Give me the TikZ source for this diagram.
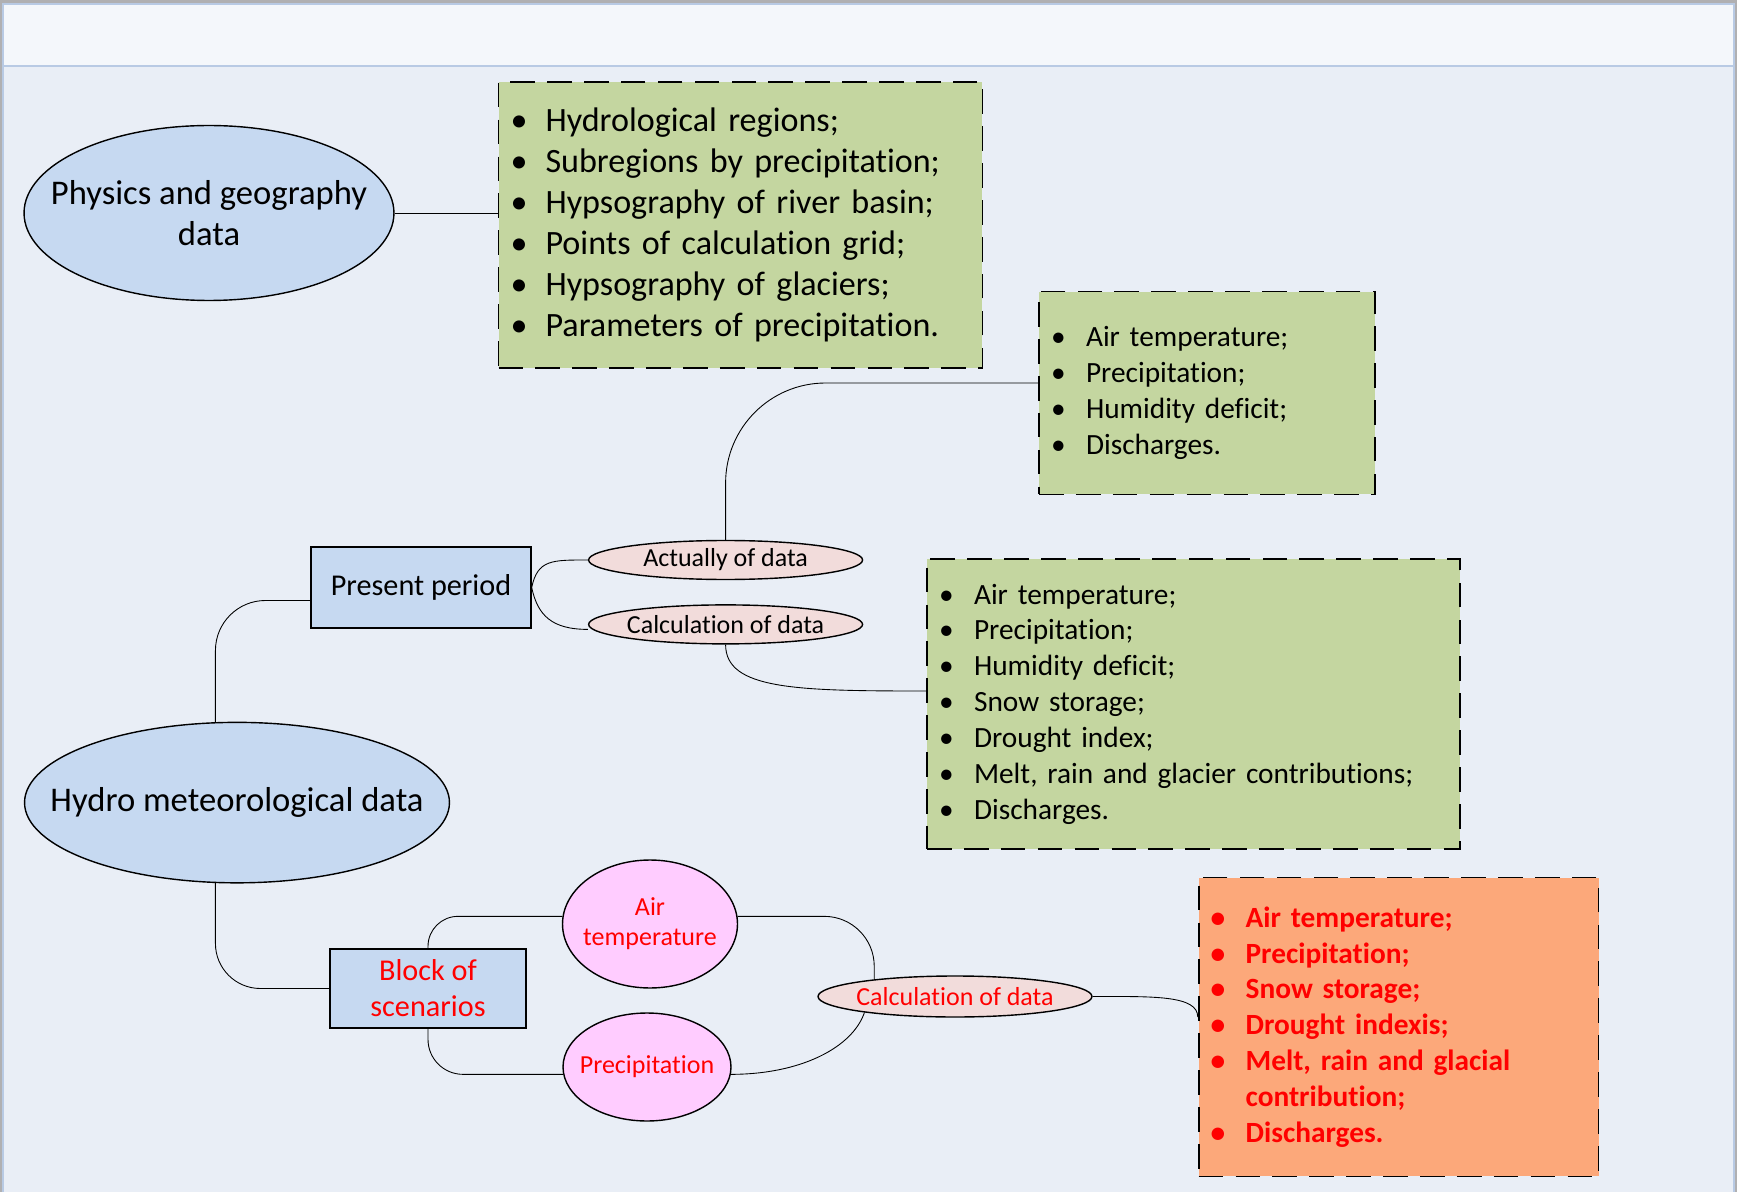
\documentclass[tikz,border=0pt]{standalone}
\usepackage{fontspec}
\setmainfont{Carlito}[Ligatures=NoCommon]
\usetikzlibrary{shapes.geometric,positioning,calc}

\definecolor{desk}{RGB}{176,176,178}
\definecolor{barwhite}{RGB}{244,247,251}
\definecolor{framec}{RGB}{184,202,228}
\definecolor{bgblue}{RGB}{233,238,246}
\definecolor{ellblue}{RGB}{198,217,241}
\definecolor{listgreen}{RGB}{196,214,160}
\definecolor{rosy}{RGB}{242,220,219}
\definecolor{lilac}{RGB}{255,204,255}
\definecolor{peach}{RGB}{252,168,122}
\definecolor{hotred}{RGB}{255,0,0}

\newcommand{\itm}{\makebox[0.7cm][l]{\textbullet}}
\newcommand{\itmgap}{\hspace*{0.7cm}}

\tikzset{
  bigell/.style={ellipse, draw, line width=0.8pt, fill=ellblue, align=center,
    inner xsep=-3cm, inner ysep=0pt, font=\fontsize{19.7}{23.3}\selectfont},
  smallell/.style={ellipse, draw, line width=0.8pt, fill=rosy, align=center,
    inner xsep=-3cm, inner ysep=-0.5cm, font=\fontsize{14.8}{17}\selectfont},
  roundell/.style={ellipse, draw, line width=0.8pt, fill=lilac, align=center,
    inner xsep=-3cm, inner ysep=-0.5cm, text=hotred, font=\fontsize{14.8}{17.2}\selectfont},
  blockbox/.style={rectangle, draw, line width=0.8pt, fill=ellblue, align=center,
    font=\fontsize{17.2}{20.6}\selectfont},
  listbox/.style={rectangle, draw, line width=1pt, dash pattern=on 14pt off 7pt,
    fill=listgreen, align=left, inner xsep=0.24cm, inner ysep=0pt,
    font=\fontsize{16.7}{20.4}\selectfont},
  link/.style={draw, line width=0.5pt},
}

\begin{document}
\begin{tikzpicture}[x=0.02cm, y=-0.02cm]
  \useasboundingbox (0,0) rectangle (1737,1192);
  % window
  \fill[desk] (0,0) rectangle (1737,1192);
  \fill[barwhite] (3,4) rectangle (1734,66);
  \fill[bgblue] (3,66) rectangle (1734,1192);
  \draw[framec, line width=1pt] (3,1192) -- (3,4) -- (1734,4) -- (1734,1192);
  \draw[framec, line width=1pt] (3,66) -- (1734,66);

  % physics and geography
  \node[bigell, minimum width=7.4cm, minimum height=3.5cm] (phys) at (209,213)
    {Physics and geography\\data};
  \node[listbox, text width=9.2cm, minimum height=5.72cm,
    font=\fontsize{19.4}{23.3}\selectfont] (physlist) at (740.5,225) {%
    \itm Hydrological regions;\\
    \itm Subregions by precipitation;\\
    \itm Hypsography of river basin;\\
    \itm Points of calculation grid;\\
    \itm Hypsography of glaciers;\\
    \itm Parameters of precipitation.};

  % hydro meteorological
  \node[bigell, minimum width=8.5cm, minimum height=3.21cm] (hydro) at (237,802.6)
    {Hydro meteorological data};
  \node[blockbox, minimum width=4.4cm, minimum height=1.62cm] (present) at (421,587.5)
    {Present period};
  \node[smallell, minimum width=5.48cm, minimum height=0.78cm] (actual) at (725.6,560)
    {Actually of data};
  \node[smallell, minimum width=5.48cm, minimum height=0.78cm, below=0.48cm of actual] (calcp)
    {Calculation of data};
  \node[listbox, text width=6.24cm, minimum height=4.06cm] (actlist) at (1207,393) {%
    \itm Air temperature;\\
    \itm Precipitation;\\
    \itm Humidity deficit;\\
    \itm Discharges.};
  \node[listbox, text width=10.18cm, minimum height=5.81cm] (calclist) at (1193.5,704) {%
    \itm Air temperature;\\
    \itm Precipitation;\\
    \itm Humidity deficit;\\
    \itm Snow storage;\\
    \itm Drought index;\\
    \itm Melt, rain and glacier contributions;\\
    \itm Discharges.};

  % scenarios
  \node[blockbox, text=hotred, minimum width=3.92cm, minimum height=1.58cm] (block) at (428,988.5)
    {Block of\\scenarios};
  \node[roundell, minimum width=3.5cm, minimum height=2.56cm] (air) at (650,924)
    {Air\\temperature};
  \node[roundell, minimum width=3.36cm, minimum height=2.16cm] (precip) at (647,1067)
    {Precipitation};
  \node[smallell, text=hotred, minimum width=5.48cm, minimum height=0.82cm] (calcr) at (955,996.5)
    {Calculation of data};
  \node[listbox, fill=peach, text=hotred, text width=7.52cm, minimum height=5.98cm,
    font=\fontsize{16.7}{20.4}\selectfont\bfseries] (orange) at (1398.6,1027) {%
    \itm Air temperature;\\
    \itm Precipitation;\\
    \itm Snow storage;\\
    \itm Drought indexis;\\
    \itm Melt, rain and glacial\\
    \itmgap contribution;\\
    \itm Discharges.};

  % connectors
  \draw[link] (phys.east) -- (phys.east -| physlist.west);
  \draw[link, rounded corners=1cm] (hydro.105) |- ($(present.west)+(0,13)$);
  \draw[link] (present.east) .. controls +(6,-28) and +(-36,0) .. (actual.west);
  \draw[link] (present.east) .. controls +(6,28) and +(-36,0) .. ($(calcp.west)+(0,5)$);
  \draw[link, rounded corners=2cm] (actual.north) |- ($(actlist.west)+(0,-10)$);
  \draw[link] (calcp.south) .. controls +(0,45) and +(-130,0) .. ($(calclist.west)+(0,-13)$);
  \draw[link, rounded corners=0.9cm] (hydro.-105) |- (block.west);
  \draw[link, rounded corners=0.6cm] (block.north) |- (air.175);
  \draw[link, rounded corners=0.7cm] (block.south) |- (precip.185);
  \draw[link, rounded corners=1cm] (air.5) -| (calcr.168);
  \draw[link] (precip.-5) .. controls +(70,0) and +(-12,35) .. (calcr.190);
  \draw[link] (calcr.east) .. controls +(60,0) and +(0,-22) .. ($(orange.west)+(0,-10)$);
\end{tikzpicture}
\end{document}
